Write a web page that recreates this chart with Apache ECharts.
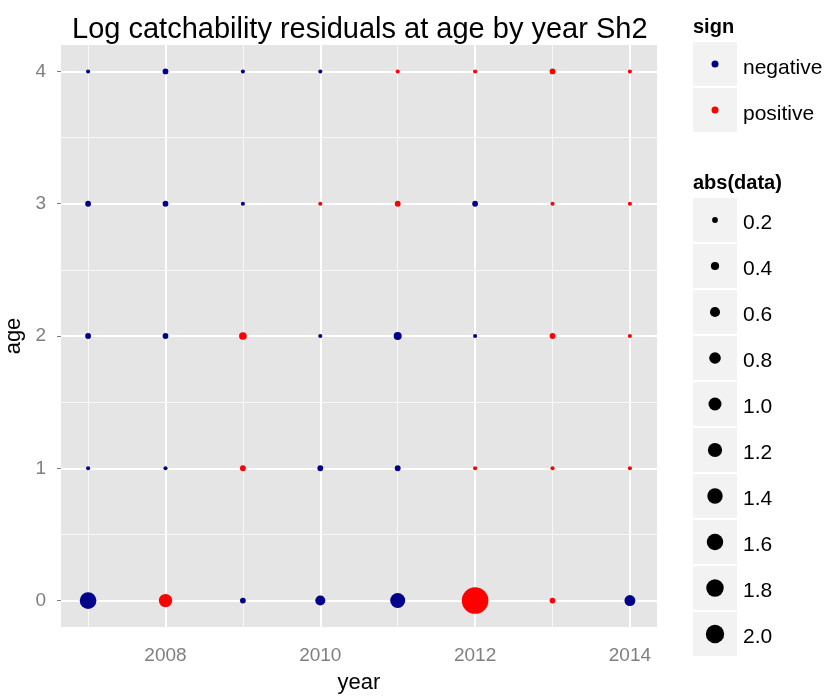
<!DOCTYPE html>
<html>
<head>
<meta charset="utf-8">
<script src="https://cdn.jsdelivr.net/npm/echarts@6/dist/echarts.min.js"></script>
<style>
  html, body { margin: 0; padding: 0; background: #fff; }
  #main { width: 830px; height: 697px; }
</style>
</head>
<body>
<div id="main"></div>
<script>
const years = [2007, 2008, 2009, 2010, 2011, 2012, 2013, 2014];
const ages = [0, 1, 2, 3, 4];
// signed residuals, one array per age (index = year)
const resAge0 = [-1.65, 1.05, -0.2, -0.6, -1.33, 4.2, 0.2, -0.7];
const resAge1 = [-0.1, -0.1, 0.2, -0.2, -0.2, 0.1, 0.1, 0.1];
const resAge2 = [-0.2, -0.2, 0.35, -0.1, -0.38, -0.1, 0.2, 0.1];
const resAge3 = [-0.2, -0.2, -0.1, 0.1, 0.2, -0.2, 0.1, 0.1];
const resAge4 = [-0.1, -0.2, -0.1, -0.1, 0.1, 0.1, 0.2, 0.1];
const xTicks = [2008, 2010, 2012, 2014];
const yTicks = [0, 1, 2, 3, 4];
const xMinor = [2007, 2009, 2011, 2013];
const yMinor = [0.5, 1.5, 2.5, 3.5];
const signNames = ['negative', 'positive'];
const sizeBreaks = [0.2, 0.4, 0.6, 0.8, 1.0, 1.2, 1.4, 1.6, 1.8, 2.0];

const FONT = 'Liberation Sans, Arial, sans-serif';
const signColors = { negative: '#00008B', positive: '#FF0000' };
const sizeOf = v => 13 * Math.sqrt(v);

// split points by sign
const residuals = [resAge0, resAge1, resAge2, resAge3, resAge4];
const negPts = [];
const posPts = [];
ages.forEach((age, i) => {
  residuals[i].forEach((r, j) => {
    (r < 0 ? negPts : posPts).push([years[j], age, Math.abs(r)]);
  });
});

// gridlines drawn as markLines so they sit on the axis scale
const minorLine = { color: '#F8F8F8', width: 1, type: 'solid' };
const majorLine = { color: '#FFFFFF', width: 2, type: 'solid' };
const gridMarks = [];
xMinor.forEach(v => gridMarks.push({ xAxis: v, lineStyle: minorLine }));
yMinor.forEach(v => gridMarks.push({ yAxis: v, lineStyle: minorLine }));
xTicks.forEach(v => gridMarks.push({ xAxis: v, lineStyle: majorLine }));
yTicks.forEach(v => gridMarks.push({ yAxis: v, lineStyle: majorLine }));

// legend (ggplot style keys)
const legendX = 693;
const keyW = 44;
const pitch = 46;
const legendEls = [];
legendEls.push({
  type: 'text', x: legendX, y: 27,
  style: { text: 'sign', font: 'bold 20px ' + FONT, fill: '#000', verticalAlign: 'middle' }
});
signNames.forEach((name, i) => {
  const top = 42 + i * pitch;
  legendEls.push({ type: 'rect', shape: { x: legendX, y: top, width: keyW, height: keyW }, style: { fill: '#F2F2F2' } });
  legendEls.push({ type: 'circle', shape: { cx: legendX + keyW / 2, cy: top + keyW / 2, r: 3.5 }, style: { fill: signColors[name] } });
  legendEls.push({
    type: 'text', x: legendX + 50, y: top + keyW / 2 + 4,
    style: { text: name, font: '21px ' + FONT, fill: '#000', verticalAlign: 'middle' }
  });
});
legendEls.push({
  type: 'text', x: legendX, y: 183,
  style: { text: 'abs(data)', font: 'bold 20px ' + FONT, fill: '#000', verticalAlign: 'middle' }
});
sizeBreaks.forEach((b, i) => {
  const top = 198 + i * pitch;
  legendEls.push({ type: 'rect', shape: { x: legendX, y: top, width: keyW, height: keyW }, style: { fill: '#F2F2F2' } });
  legendEls.push({ type: 'circle', shape: { cx: legendX + keyW / 2, cy: top + keyW / 2, r: sizeOf(b) / 2 }, style: { fill: '#000' } });
  legendEls.push({
    type: 'text', x: legendX + 50, y: top + keyW / 2 + 3,
    style: { text: b.toFixed(1), font: '21px ' + FONT, fill: '#000', verticalAlign: 'middle' }
  });
});

const chart = echarts.init(document.getElementById('main'), null, { renderer: 'canvas' });
chart.setOption({
  animation: false,
  backgroundColor: '#FFFFFF',
  title: {
    text: 'Log catchability residuals at age by year Sh2',
    left: 67,
    top: 10,
    textStyle: { fontFamily: FONT, fontSize: 29, fontWeight: 'normal', color: '#000' }
  },
  grid: {
    left: 61, right: 173, top: 45, bottom: 70,
    containLabel: false,
    outerBoundsMode: 'none',
    show: true, backgroundColor: '#E5E5E5', borderWidth: 0
  },
  xAxis: {
    type: 'value',
    min: 2006.65,
    max: 2014.35,
    name: 'year',
    nameLocation: 'middle',
    nameGap: 45,
    nameTextStyle: { fontFamily: FONT, fontSize: 22, color: '#000' },
    axisLine: { show: false },
    axisTick: { show: true, length: 4, lineStyle: { color: '#7F7F7F' }, customValues: xTicks },
    axisLabel: {
      customValues: xTicks, margin: 19, fontFamily: FONT, fontSize: 19, color: '#7F7F7F',
      formatter: v => String(v)
    },
    splitLine: { show: false }
  },
  yAxis: {
    type: 'value',
    min: -0.2,
    max: 4.2,
    name: 'age',
    nameLocation: 'middle',
    nameRotate: 90,
    nameGap: 34,
    nameTextStyle: { fontFamily: FONT, fontSize: 22, color: '#000' },
    axisLine: { show: false },
    axisTick: { show: true, length: 4, lineStyle: { color: '#7F7F7F' }, customValues: yTicks },
    axisLabel: { customValues: yTicks, margin: 15, fontFamily: FONT, fontSize: 19, color: '#7F7F7F' },
    splitLine: { show: false }
  },
  graphic: legendEls,
  series: [
    {
      name: 'grid',
      type: 'scatter',
      z: 1,
      data: [],
      markLine: {
        silent: true, z: 1, symbol: ['none', 'none'], label: { show: false },
        emphasis: { disabled: true }, data: gridMarks
      }
    },
    {
      name: 'negative',
      type: 'scatter',
      z: 3,
      symbol: 'circle',
      symbolSize: d => sizeOf(d[2]),
      itemStyle: { color: signColors.negative, opacity: 1 },
      data: negPts
    },
    {
      name: 'positive',
      type: 'scatter',
      z: 3,
      symbol: 'circle',
      symbolSize: d => sizeOf(d[2]),
      itemStyle: { color: signColors.positive, opacity: 1 },
      data: posPts
    }
  ]
});
</script>
</body>
</html>
